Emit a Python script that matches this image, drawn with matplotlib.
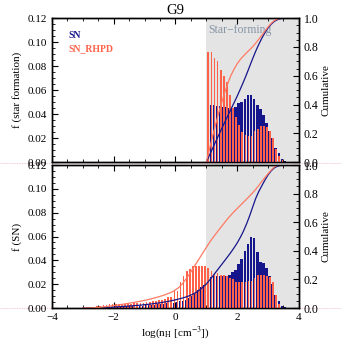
import numpy as np
import matplotlib
matplotlib.use('Agg')
import matplotlib.pyplot as plt
from matplotlib.ticker import MultipleLocator
from matplotlib.lines import Line2D

plt.rcParams['font.family'] = ['Liberation Serif', 'DejaVu Serif']
plt.rcParams['mathtext.fontset'] = 'stix'

# bin centres of the 0.1 dex density bins
sf_bins = np.round(np.arange(1.05, 3.6, 0.1), 2)
sn_bins = np.round(np.arange(-2.95, 3.6, 0.1), 2)

# fraction of star formation per bin (top panel)
sf_sn = [0.047, 0.048, 0.048, 0.047, 0.047, 0.046, 0.046, 0.045, 0.045, 0.046,
         0.049, 0.050, 0.053, 0.056, 0.056, 0.053, 0.048, 0.044, 0.039, 0.033,
         0.026, 0.020, 0.012, 0.0075, 0.003, 0.001]
sf_rhpd = [0.092, 0.092, 0.087, 0.084, 0.077, 0.072, 0.067, 0.056, 0.045, 0.038,
           0.031, 0.025, 0.023, 0.022, 0.022, 0.026, 0.028, 0.030, 0.030, 0.029,
           0.026, 0.020, 0.011, 0.005, 0.002, 0.0]

# fraction of SN explosions per bin (bottom panel)
sn_sn = [0.0002, 0.0003, 0.0003, 0.0005, 0.0006, 0.0008, 0.0008, 0.0009, 0.0011, 0.0010,
         0.0012, 0.0012, 0.0014, 0.0013, 0.0015, 0.0016, 0.0018, 0.0017, 0.0019, 0.0021,
         0.0022, 0.0025, 0.0026, 0.0027, 0.0031, 0.0033, 0.0035, 0.0040, 0.0042, 0.0046,
         0.005, 0.0055, 0.006, 0.007, 0.0085, 0.010, 0.012, 0.015, 0.018, 0.019,
         0.025, 0.026, 0.027, 0.027, 0.027, 0.027, 0.027, 0.028, 0.030, 0.032,
         0.037, 0.041, 0.048, 0.054, 0.060, 0.059, 0.047, 0.039, 0.038, 0.034,
         0.027, 0.020, 0.011, 0.006, 0.002, 0.0005]
sn_rhpd = [0.0003, 0.0005, 0.0007, 0.0010, 0.0015, 0.0020, 0.0025, 0.0028, 0.0030, 0.0030,
           0.0032, 0.0033, 0.0034, 0.0035, 0.0036, 0.0037, 0.0038, 0.0040, 0.0042, 0.0045,
           0.0048, 0.0050, 0.0060, 0.0060, 0.0065, 0.0070, 0.0075, 0.0090, 0.0090, 0.0145,
           0.0145, 0.022, 0.027, 0.031, 0.033, 0.035, 0.035, 0.035, 0.035, 0.035,
           0.034, 0.031, 0.029, 0.029, 0.028, 0.028, 0.027, 0.025, 0.024, 0.022,
           0.022, 0.022, 0.022, 0.023, 0.023, 0.025, 0.028, 0.028, 0.028, 0.027,
           0.026, 0.022, 0.011, 0.003, 0.0, 0.0]

NAVY = '#16168c'
SALMON = '#ff6248'
LINE_RED = '#ff7a62'
GREY = '#e4e4e4'


def cumulative(bins, frac):
    frac = np.asarray(frac)
    edges = np.append(bins - 0.05, bins[-1] + 0.05)
    cum = np.append(0.0, np.cumsum(frac)) / frac.sum()
    return edges, cum


def draw_panel(ax, bins, blue, red, ylabel):
    ax.axvspan(1.0, 4.0, color=GREY, lw=0, zorder=0)
    ax.bar(bins, blue, width=0.085, color=NAVY, lw=0, zorder=2)
    ax.bar(bins + 0.015, red, width=0.055, color=SALMON, lw=0, zorder=3)
    ax.set_xlim(-4, 4)
    ax.set_ylim(0, 0.12)
    ax.xaxis.set_major_locator(MultipleLocator(2))
    ax.xaxis.set_minor_locator(MultipleLocator(0.5))
    ax.yaxis.set_major_locator(MultipleLocator(0.02))
    ax.yaxis.set_minor_locator(MultipleLocator(0.005))
    ax.yaxis.set_major_formatter(plt.FormatStrFormatter('%.2f'))
    ax.tick_params(which='both', direction='in', top=True, right=False, labelsize=8)
    ax.tick_params(which='major', length=4)
    ax.tick_params(which='minor', length=2)
    ax.set_ylabel(ylabel, fontsize=8, labelpad=4)

    tw = ax.twinx()
    x, c = cumulative(bins, blue)
    tw.plot(x, c, color=NAVY, lw=0.9)
    x, c = cumulative(bins, red)
    tw.plot(x, c, color=LINE_RED, lw=0.9)
    tw.set_ylim(0, 1)
    tw.yaxis.set_major_locator(MultipleLocator(0.2))
    tw.yaxis.set_minor_locator(MultipleLocator(0.05))
    tw.yaxis.set_major_formatter(plt.FormatStrFormatter('%.1f'))
    tw.tick_params(which='both', direction='in', labelsize=8.5)
    tw.tick_params(which='major', length=4)
    tw.tick_params(which='minor', length=2)
    tw.set_ylabel('Cumulative', fontsize=8, labelpad=2)
    for a in (ax, tw):
        for s in a.spines.values():
            s.set_linewidth(1.0)
    return tw


fig = plt.figure(figsize=(3.42, 3.42), dpi=100)

# faint pinkish rules across the page
for yy in (1 - 163 / 342, 1 - 308 / 342):
    fig.add_artist(Line2D([0, 1], [yy, yy], transform=fig.transFigure,
                          color='#f2b6c6', lw=0.6, ls=(0, (1, 1)), zorder=0))

ax1 = fig.add_axes([0.152, 0.526, 0.722, 0.421])
ax2 = fig.add_axes([0.152, 0.0994, 0.722, 0.418])

draw_panel(ax1, sf_bins, sf_sn, sf_rhpd, 'f (star formation)')
draw_panel(ax2, sn_bins, sn_sn, sn_rhpd, 'f (SN)')

ax1.tick_params(labelbottom=False)
ax1.set_title('G9', fontsize=10.5, pad=3)
ax1.text(0.065, 0.88, 'SN', transform=ax1.transAxes, color=NAVY,
         fontweight='bold', fontsize=7, va='center')
ax1.text(0.065, 0.79, 'SN_RHPD', transform=ax1.transAxes, color=SALMON,
         fontweight='bold', fontsize=7, va='center')
ax1.text(1.05, 0.915, 'Star\u2212forming', transform=ax1.get_xaxis_transform(),
         color='#8796a8', fontsize=8.5, va='center')

ax2.set_xlabel(r'log(n$_{\rm H}$ [cm$^{-3}$])', fontsize=8, labelpad=2)

fig.savefig('out.png', dpi=100)
